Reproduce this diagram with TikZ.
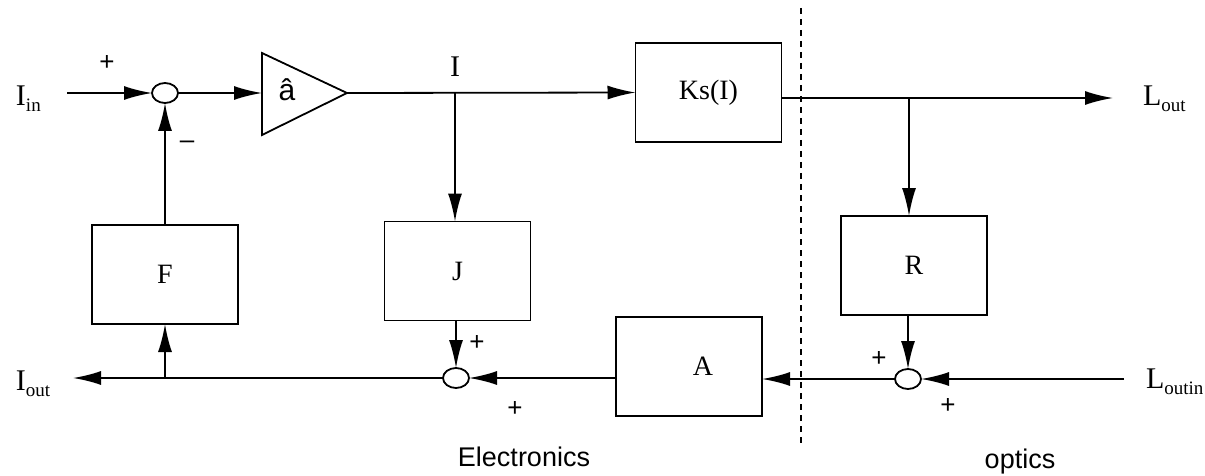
\documentclass[tikz,border=0pt]{standalone}
\usepackage{fontspec}
\setmainfont{Liberation Serif}
\setsansfont{Liberation Sans}
\usetikzlibrary{arrows.meta,shapes.geometric,calc}
\newcommand{\sbs}[1]{\raisebox{-0.45ex}{\fontsize{9.5}{11}\selectfont #1}}
\begin{document}
\begin{tikzpicture}[x=0.5pt,y=-0.5pt,
  every node/.style={inner sep=0pt, outer sep=0pt},
  box/.style={draw, line width=0.9pt, minimum width=73pt, minimum height=49.5pt, font=\fontsize{14}{16}\selectfont},
  sumj/.style={draw, ellipse, line width=0.9pt, minimum width=13pt, minimum height=10pt},
  conn/.style={line width=0.9pt},
  arr/.style={conn, -{Latex[length=14pt,width=7pt]}},
  lbl/.style={font=\fontsize{15}{17}\selectfont},
  sgn/.style={font=\sffamily\fontsize{13}{15}\selectfont},
  region/.style={font=\sffamily\fontsize{13.5}{16}\selectfont},
  sep/.style={line width=0.75pt, dash pattern=on 3pt off 2.5pt}]
\useasboundingbox (0,0) rectangle (1205,476);

% blocks
\node[box] (Ks) at (708.5,92.5) {Ks(I)};
\node[box] (F) at (165,274.5) {F};
\node[box] (J) at (457.5,271) {J};
\node[box] (R) at (914,265.5) {R};
\node[box] (A) at (689,366.5) {\hspace*{14pt}A};

% summing junctions
\node[sumj] (s1) at (165,93) {};
\node[sumj] (s2) at (456,378) {};
\node[sumj] (s3) at (908,379) {};

% amplifier
\coordinate (ampin) at (262,93);
\coordinate (ampout) at (347,93);
\draw[conn, line join=miter] (262,53) -- (ampout) -- (262,135) -- cycle;
\node[font=\sffamily\fontsize{15}{17}\selectfont] (gain) at (287,90) {â};

% coordinates for free ends and branch points
\coordinate (Iinstart) at (67,93);
\coordinate (bI) at (455,93);
\coordinate (ksout) at ($(Ks.east)+(0,5.5)$);
\coordinate (bR) at (909,98);
\coordinate (Loutend) at (1113,98);
\coordinate (Linstart) at (1124,379);
\coordinate (Ioutend) at (73,378);
\coordinate (bF) at (165,378);
\coordinate (dtop) at (801,8);
\coordinate (dbot) at (801,443);

% forward path
\draw[arr] (Iinstart) -- (s1.west);
\draw[arr] (s1.east) -- (ampin);
\draw[arr] (ampout) -- (Ks.west);
\draw[arr] (bI) -- (bI |- J.north);
\draw[arr] (ksout) -- (Loutend);
\draw[arr] (bR) -- (bR |- R.north);

% return path
\draw[arr] (s3.north |- R.south) -- (s3.north);
\draw[arr] (Linstart) -- (s3.east);
\draw[arr] (s3.west) -- (s3.west -| A.east);
\draw[arr] (s2.east -| A.west) -- (s2.east);
\draw[arr] (s2.north |- J.south) -- (s2.north);
\draw[arr] (s2.west) -- (Ioutend);
\draw[arr] (bF) -- (F.south);
\draw[arr] (F.north) -- (s1.south);

% separator
\draw[sep] (dtop) -- (dbot);

% labels
\node[lbl, anchor=base west] (Iin) at (16,105) {I\sbs{in}};
\node[lbl, anchor=base west] (Iout) at (16,390) {I\sbs{out}};
\node[lbl, anchor=base west] (Lout) at (1143,105) {L\sbs{out}};
\node[lbl, anchor=base west] (Loutin) at (1146,388) {L\sbs{outin}};
\node[lbl] (Ilbl) at (455,67) {I};

\node[sgn] (p1) at (107,63) {+};
\node[sgn] (m1) at (187,145) {–};
\node[sgn] (p2) at (477,343) {+};
\node[sgn] (p3) at (515,409) {+};
\node[sgn] (p4) at (879,359) {+};
\node[sgn] (p5) at (948,406) {+};

\node[region] (elec) at (524,457) {Electronics};
\node[region] (opt) at (1020,462) {optics};
\end{tikzpicture}
\end{document}
